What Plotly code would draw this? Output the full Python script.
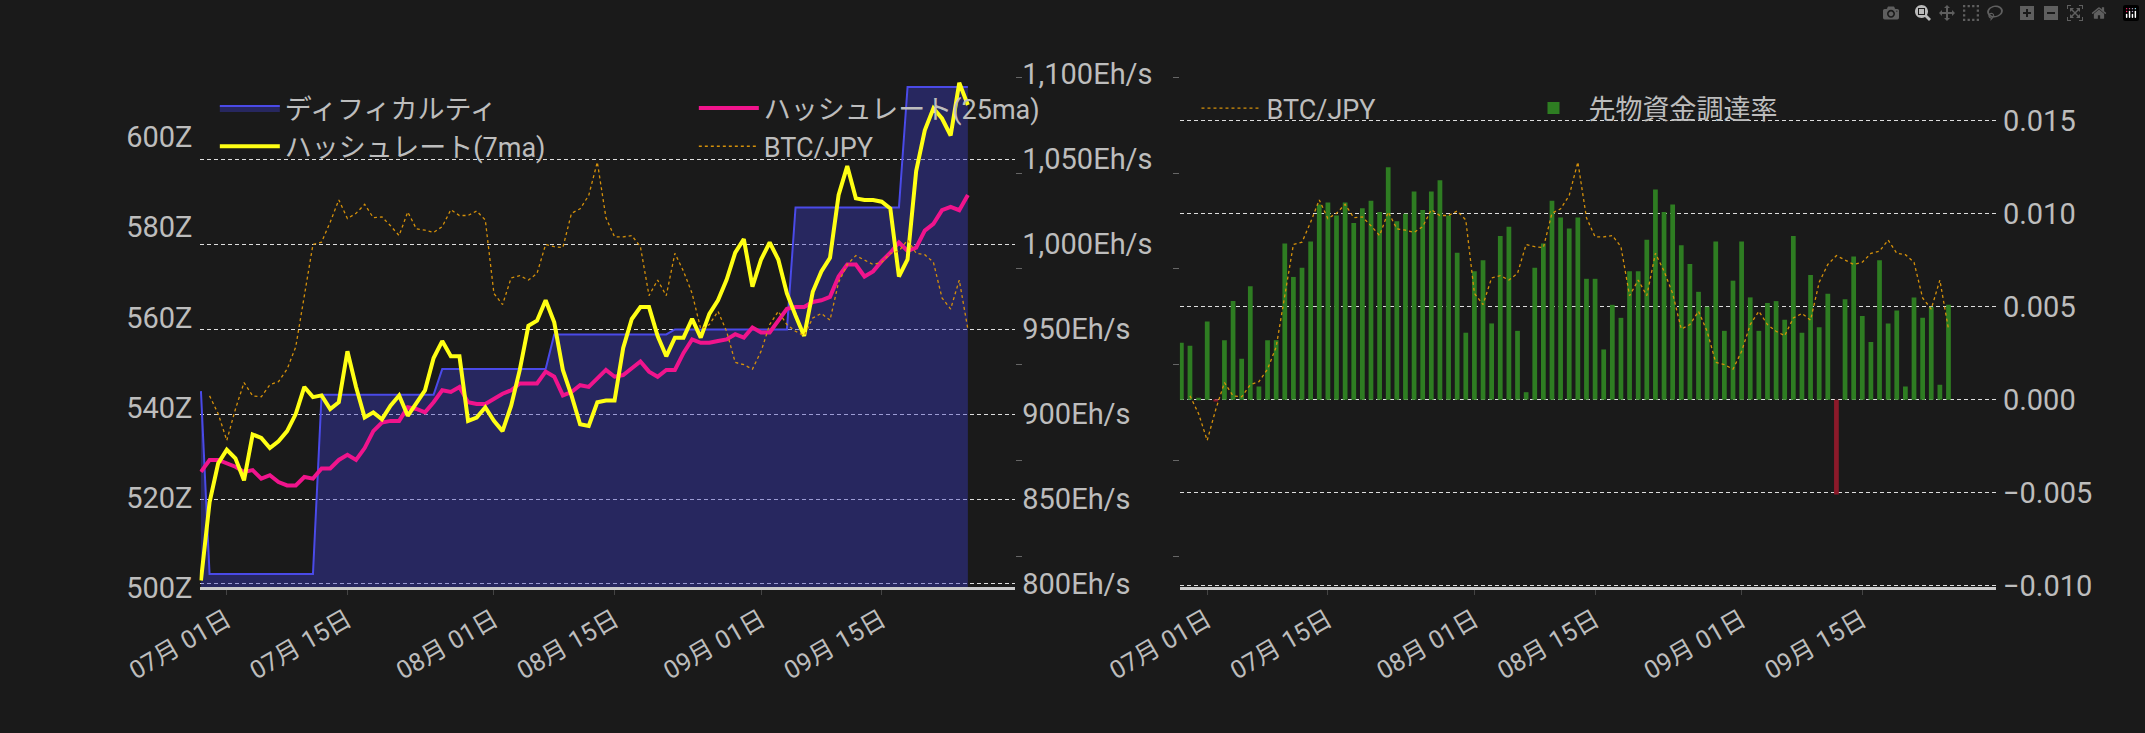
import datetime as dt
import plotly.graph_objects as go

start = dt.date(2023, 6, 28)
dates = [(start + dt.timedelta(days=i)).isoformat() for i in range(90)]

difficulty = ([543.6] + [503.0] * 13 + [542.8] * 14 + [548.5] * 13 + [556.2] * 14 +
              [557.3] * 14 + [584.4] * 13 + [611.2] * 8)

hash7 = [802, 848, 871, 879, 874, 861, 888, 886, 880, 884, 890, 900, 916, 910, 911, 903, 907, 937, 916, 898,
         901, 897, 905, 911, 899, 907, 914, 933, 943, 934, 934, 896, 898, 904, 896, 890, 905, 926, 952, 955,
         967, 954, 926, 911, 894, 893, 907, 908, 908, 939, 956, 963, 963, 946, 934, 945, 945, 956, 945, 959,
         967, 979, 995, 1003, 975, 991, 1001, 991, 971, 958, 946, 972, 984, 992, 1029, 1046, 1027, 1026, 1026, 1025,
         1021, 981, 991, 1043, 1067, 1080, 1074, 1064, 1095, 1082]

hash25 = [866, 873, 873, 871, 869, 866, 867, 862, 864, 860, 858, 858, 863, 862, 868, 868, 873, 876, 873, 880,
          890, 895, 896, 896, 904, 903, 901, 907, 914, 913, 916, 907, 906, 906, 909, 912, 914, 918, 918, 918,
          925, 922, 911, 913, 917, 916, 921, 926, 922, 923, 927, 931, 925, 922, 926, 926, 936, 944, 942, 942,
          943, 944, 947, 945, 951, 948, 948, 955, 962, 963, 963, 966, 967, 969, 981, 988, 988, 981, 984, 990,
          995, 1001, 996, 998, 1008, 1012, 1020, 1022, 1020, 1029]

btc_px = [None, 850, 890, 950, 880, 820, 850, 852, 825, 818, 790, 740, 620, 510, 505, 460, 410, 452, 440, 420,
          450, 448, 468, 490, 437, 475, 478, 483, 470, 432, 445, 445, 435, 455, 620, 645, 585, 580, 590, 575,
          510, 515, 517, 440, 430, 400, 325, 450, 493, 493, 490, 515, 625, 590, 625, 530, 570, 620, 700, 690,
          660, 705, 775, 780, 790, 750, 690, 660, 690, 705, 715, 675, 665, 680, 595, 555, 535, 545, 555, 550,
          530, 525, 500, 530, 533, 550, 630, 655, 590, 700]
btc_jpy = [None if v is None else 3900000 + (1280 - v) * 500 for v in btc_px]

funding = [.00306, .0029, .0001, .0042, -.0001, .0032, .0053, .0022, .0061, .0007,
           .0032, .0032, .0084, .0066, .0071, .0085, .0105, .0106, .0099, .0106,
           .0095, .0103, .0107, .0101, .0125, .0096, .0100, .0112, .0102, .0112,
           .0118, .0099, .0079, .0036, .0069, .0075, .0041, .0088, .0093, .0037,
           .0004, .0071, .0084, .0107, .0098, .0092, .0098, .0065, .0065, .0027,
           .0051, .0044, .0069, .0069, .0086, .0113, .0101, .0105, .0083, .0073,
           .0058, .0050, .0085, .0037, .0064, .0085, .0055, .0037, .0052, .0053,
           .0043, .0088, .0036, .0067, .0039, .0057, -.0051, .0054, .0077, .0045,
           .0031, .0075, .0041, .0048, .0007, .0055, .0044, .0050, .0008, .0051]

tick_dates = ["2023-07-01", "2023-07-15", "2023-08-01", "2023-08-15", "2023-09-01", "2023-09-15"]
tick_text = ["07月 01日", "07月 15日", "08月 01日", "08月 15日", "09月 01日", "09月 15日"]

BG = "#1a1a1a"
TXT = "#bdbdbd"
FONT = "Roboto, Noto Sans CJK JP, sans-serif"
BTC_C = "#d4900a"

fig = go.Figure()
fig.add_trace(go.Scatter(x=dates, y=difficulty, name="ディフィカルティ", mode="lines",
                         line=dict(color="#4a4ae8", width=2), fill="tozeroy",
                         fillcolor="rgba(60,60,200,0.4)", xaxis="x", yaxis="y", legend="legend"))
fig.add_trace(go.Scatter(x=dates, y=hash25, name="ハッシュレート(25ma)", mode="lines",
                         line=dict(color="#f0148c", width=4), xaxis="x", yaxis="y2", legend="legend"))
fig.add_trace(go.Scatter(x=dates, y=hash7, name="ハッシュレート(7ma)", mode="lines",
                         line=dict(color="#ffff14", width=4), xaxis="x", yaxis="y2", legend="legend2"))
fig.add_trace(go.Scatter(x=dates, y=btc_jpy, name="BTC/JPY", mode="lines",
                         line=dict(color=BTC_C, width=1.3, dash="dot"), xaxis="x", yaxis="y3", legend="legend2"))

fig.add_trace(go.Scatter(x=dates, y=btc_jpy, name="BTC/JPY", mode="lines",
                         line=dict(color=BTC_C, width=1.3, dash="dot"), xaxis="x2", yaxis="y5", legend="legend3"))
fig.add_trace(go.Bar(x=dates, y=funding, name="先物資金調達率",
                     marker=dict(color=["#2e7d22" if v >= 0 else "#8b1a2a" for v in funding], line_width=0),
                     width=0.55 * 86400000, xaxis="x2", yaxis="y4", legend="legend3"))

xr = ["2023-06-27 20:00", "2023-09-30 12:00"]
xcommon = dict(type="date", range=xr, tickvals=tick_dates, ticktext=tick_text, tickangle=-30,
               showgrid=False, showline=True, linecolor="#cccccc", linewidth=3, ticks="outside",
               ticklen=5, tickcolor="#444",
               tickfont=dict(size=25, color=TXT, family=FONT), zeroline=False)
ydom = [0.184, 0.918]
grid = dict(showgrid=True, gridcolor="#dddddd", griddash="4px,3px", gridwidth=1)

fig.update_layout(
    width=2145, height=733, paper_bgcolor=BG, plot_bgcolor=BG,
    margin=dict(l=0, r=0, t=0, b=0), showlegend=True, barmode="overlay",
    font=dict(family=FONT, color=TXT, size=27),
    xaxis=dict(domain=[0.0606, 0.4545], anchor="y", **xcommon),
    xaxis2=dict(domain=[0.534, 0.928], anchor="y4", **xcommon),
    yaxis=dict(domain=ydom, range=[500, 614], dtick=20, ticksuffix="Z", showgrid=False,
               zeroline=False, tickfont=dict(size=29, color=TXT), ticklabelstandoff=6),
    yaxis2=dict(overlaying="y", side="right", range=[798, 1100], dtick=50, tickformat=",d",
                ticksuffix="Eh/s", zeroline=False, tickfont=dict(size=29, color=TXT),
                ticklabelstandoff=6, **grid),
    yaxis3=dict(overlaying="y", side="right", range=[3900000, 4476000], showticklabels=False,
                showgrid=False, zeroline=False, ticks="outside", ticklen=6, tickcolor="#666",
                tick0=3935000, dtick=107500),
    yaxis4=dict(domain=ydom, anchor="x2", side="right", range=[-0.0101, 0.0175], dtick=0.005,
                tickformat=".3f", zeroline=False, tickfont=dict(size=29, color=TXT),
                ticklabelstandoff=6, **grid),
    yaxis5=dict(overlaying="y4", side="left", range=[3900000, 4476000], showticklabels=False,
                showgrid=False, zeroline=False, ticks="outside", ticklen=6, tickcolor="#666",
                tick0=3935000, dtick=107500, anchor="x2"),
    legend=dict(x=0.068, y=1 - 96 / 733, xanchor="left", yanchor="middle", orientation="h",
                entrywidth=404, entrywidthmode="pixels", itemwidth=60, bgcolor="rgba(0,0,0,0)",
                font=dict(size=27, color=TXT)),
    legend2=dict(x=0.068, y=1 - 136 / 733, xanchor="left", yanchor="middle", orientation="h",
                 entrywidth=404, entrywidthmode="pixels", itemwidth=60, bgcolor="rgba(0,0,0,0)",
                 font=dict(size=27, color=TXT)),
    legend3=dict(x=0.542, y=1 - 96 / 733, xanchor="left", yanchor="middle", orientation="h",
                 entrywidth=247, entrywidthmode="pixels", itemwidth=60, bgcolor="rgba(0,0,0,0)",
                 font=dict(size=27, color=TXT)),
)

fig.write_html("out.html", post_script="document.body.style.margin='0';document.body.style.background='#1a1a1a';")
